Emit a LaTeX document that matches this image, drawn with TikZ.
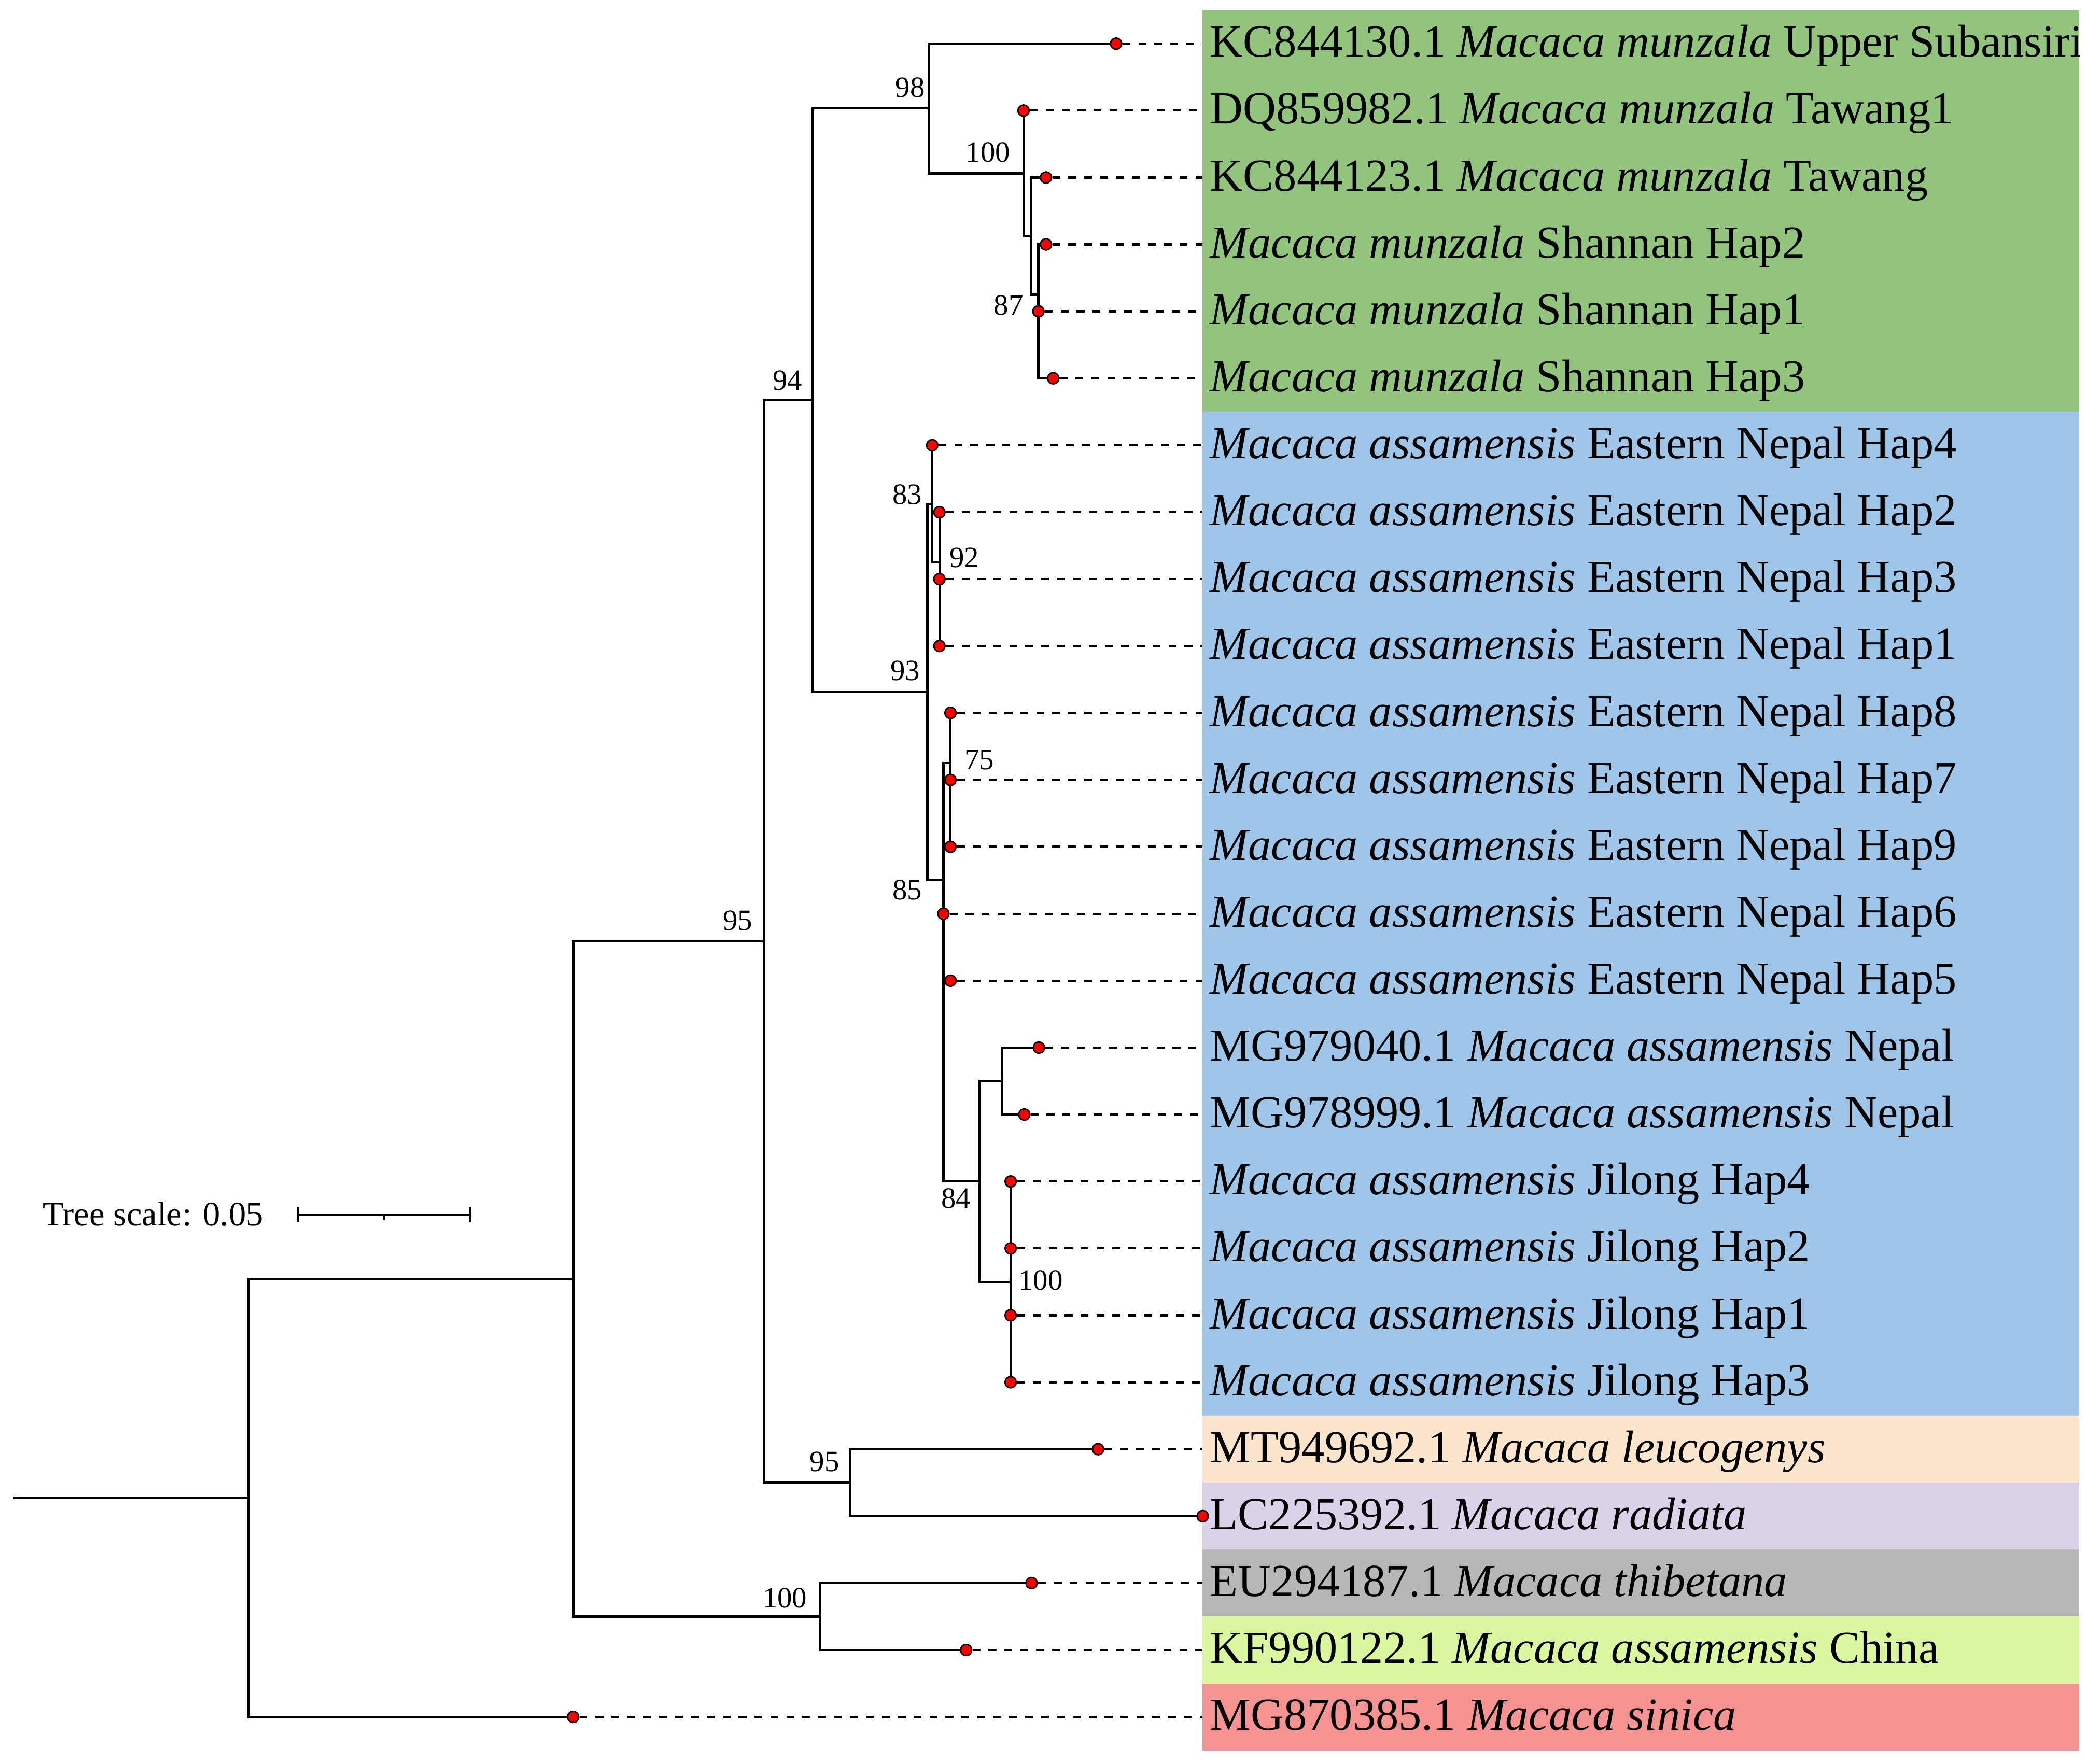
\documentclass[tikz,border=0pt]{standalone}
\usepackage{fontspec}
\setmainfont{Liberation Serif}
\usetikzlibrary{calc}
\definecolor{cgreen}{RGB}{147,196,125}
\definecolor{cblue}{RGB}{159,197,232}
\definecolor{cpeach}{RGB}{252,229,205}
\definecolor{clav}{RGB}{217,210,233}
\definecolor{cgray}{RGB}{183,183,183}
\definecolor{clime}{RGB}{218,247,160}
\definecolor{csalmon}{RGB}{244,147,145}
\tikzset{
  branch/.style={line width=0.5pt},
  leafdot/.style={circle, fill=red, draw=black, line width=0.3pt, minimum size=2.4pt, inner sep=0pt},
  guide/.style={line width=0.48pt, dash pattern=on 1.7pt off 1.7pt},
  leaflabel/.style={anchor=base west, inner sep=0pt, font=\fontsize{9.8}{11}\selectfont},
  boot/.style={inner sep=0pt, font=\fontsize{6.3}{7}\selectfont},
  scaletext/.style={anchor=base west, inner sep=0pt, font=\fontsize{7.35}{9}\selectfont},
  bar/.style={line width=0.5pt}
}
\begin{document}
\begin{tikzpicture}[x=0.01cm, y=-0.01cm]
\useasboundingbox (0,0) rectangle (1568,1325.7);

% colour bands
\fill[cgreen]   (903.4,7.65)    rectangle (1562,309.45);
\fill[cblue]    (903.4,309.45)  rectangle (1562,1063.95);
\fill[cpeach]   (903.4,1063.95) rectangle (1562,1114.25);
\fill[clav]     (903.4,1114.25) rectangle (1562,1164.55);
\fill[cgray]    (903.4,1164.55) rectangle (1562,1214.85);
\fill[clime]    (903.4,1214.85) rectangle (1562,1265.15);
\fill[csalmon]  (903.4,1265.15) rectangle (1562,1315.45);

% tip coordinates and band-edge coordinates
\foreach \i/\x in {0/838.6,1/769,2/785.9,3/785.9,4/780.2,5/791.3,6/700.4,7/705.8,8/705.8,9/705.8,
                   10/714.1,11/714.1,12/714.1,13/708.8,14/714.1,15/780.5,16/769.6,17/759.3,18/759.3,
                   19/759.3,20/759.3,21/825,22/903.6,23/775,24/725.9,25/430.6}{
  \coordinate (t\i) at (\x,{32.8+50.3*\i});
  \coordinate (e\i) at (903.4,{32.8+50.3*\i});
}

% internal nodes
\coordinate (rs)   at (10,1125.7);
\coordinate (root) at (186.8,1125.7);
\coordinate (na)   at (430.6,961.2);
\coordinate (nt)   at (616.3,1214.85);
\coordinate (nb)   at (573.9,707.5);
\coordinate (nlr)  at (638.5,1114.25);
\coordinate (nc)   at (610.7,300.8);
\coordinate (nm)   at (697.7,81.5);
\coordinate (nh)   at (769,130.25);
\coordinate (ns1)  at (774.5,177.4);
\coordinate (ns2)  at (780.2,221.4);
\coordinate (ns3)  at (780.2,259.15);
\coordinate (n93)  at (696.8,520);
\coordinate (n83)  at (700.4,378.6);
\coordinate (n92)  at (705.8,422.6);
\coordinate (n92b) at (705.8,460.35);
\coordinate (n85)  at (708.8,661.5);
\coordinate (n75)  at (714.1,573.5);
\coordinate (n75b) at (714.1,611.25);
\coordinate (nx)   at (708.8,749.6);
\coordinate (ny)   at (708.8,812.45);
\coordinate (n84)  at (735.8,887.9);
\coordinate (nmg)  at (752.7,812.45);
\coordinate (nj)   at (759.3,963.35);

% branches
\draw[branch] (rs) -- (root);
\draw[branch] (root) |- (na);  \draw[branch] (root) |- (t25);
\draw[branch] (na) |- (nb);    \draw[branch] (na) |- (nt);
\draw[branch] (nt) |- (t23);   \draw[branch] (nt) |- (t24);
\draw[branch] (nb) |- (nc);    \draw[branch] (nb) |- (nlr);
\draw[branch] (nlr) |- (t21);  \draw[branch] (nlr) |- (t22);
\draw[branch] (nc) |- (nm);    \draw[branch] (nc) |- (n93);
\draw[branch] (nm) |- (t0);    \draw[branch] (nm) |- (nh);
\draw[branch] (nh) |- (t1);    \draw[branch] (nh) |- (ns1);
\draw[branch] (ns1) |- (t2);   \draw[branch] (ns1) |- (ns2);
\draw[branch] (ns2) |- (t3);   \draw[branch] (ns2) |- (ns3);
\draw[branch] (ns3) |- (t4);   \draw[branch] (ns3) |- (t5);
\draw[branch] (n93) |- (n83);  \draw[branch] (n93) |- (n85);
\draw[branch] (n83) |- (t6);   \draw[branch] (n83) |- (n92);
\draw[branch] (n92) |- (t7);   \draw[branch] (n92) |- (n92b);
\draw[branch] (n92b) |- (t8);  \draw[branch] (n92b) |- (t9);
\draw[branch] (n85) |- (n75);  \draw[branch] (n85) |- (nx);
\draw[branch] (n75) |- (t10);  \draw[branch] (n75) |- (n75b);
\draw[branch] (n75b) |- (t11); \draw[branch] (n75b) |- (t12);
\draw[branch] (nx) |- (t13);   \draw[branch] (nx) |- (ny);
\draw[branch] (ny) |- (t14);   \draw[branch] (ny) |- (n84);
\draw[branch] (n84) |- (nmg);  \draw[branch] (n84) |- (nj);
\draw[branch] (nmg) |- (t15);  \draw[branch] (nmg) |- (t16);
\draw[branch] (nj) |- (t17);   \draw[branch] (nj) |- (t18);
\draw[branch] (nj) |- (t19);   \draw[branch] (nj) |- (t20);

% tip dots and dashed guides
\foreach \i in {0,...,25}{
  \node[leafdot] (d\i) at (t\i) {};
}
\foreach \i in {0,...,21,23,24,25}{
  \draw[guide] (d\i) -- (e\i);
}

% leaf labels
\begin{scope}
\clip (0,0) rectangle (1562.3,1325.7);
\foreach \i/\txt in {
  0/{KC844130.1 \textit{Macaca munzala} Upper Subansiri},
  1/{DQ859982.1 \textit{Macaca munzala} Tawang1},
  2/{KC844123.1 \textit{Macaca munzala} Tawang},
  3/{\textit{Macaca munzala} Shannan Hap2},
  4/{\textit{Macaca munzala} Shannan Hap1},
  5/{\textit{Macaca munzala} Shannan Hap3},
  6/{\textit{Macaca assamensis} Eastern Nepal Hap4},
  7/{\textit{Macaca assamensis} Eastern Nepal Hap2},
  8/{\textit{Macaca assamensis} Eastern Nepal Hap3},
  9/{\textit{Macaca assamensis} Eastern Nepal Hap1},
  10/{\textit{Macaca assamensis} Eastern Nepal Hap8},
  11/{\textit{Macaca assamensis} Eastern Nepal Hap7},
  12/{\textit{Macaca assamensis} Eastern Nepal Hap9},
  13/{\textit{Macaca assamensis} Eastern Nepal Hap6},
  14/{\textit{Macaca assamensis} Eastern Nepal Hap5},
  15/{MG979040.1 \textit{Macaca assamensis} Nepal},
  16/{MG978999.1 \textit{Macaca assamensis} Nepal},
  17/{\textit{Macaca assamensis} Jilong Hap4},
  18/{\textit{Macaca assamensis} Jilong Hap2},
  19/{\textit{Macaca assamensis} Jilong Hap1},
  20/{\textit{Macaca assamensis} Jilong Hap3},
  21/{MT949692.1 \textit{Macaca leucogenys}},
  22/{LC225392.1 \textit{Macaca radiata}},
  23/{EU294187.1 \textit{Macaca thibetana}},
  24/{KF990122.1 \textit{Macaca assamensis} China},
  25/{MG870385.1 \textit{Macaca sinica}}}{
  \node[leaflabel] (l\i) at (908.5,{42.8+50.3*\i}) {\txt};
}
\end{scope}

% bootstrap values
\node[boot, anchor=base east] (b98)  at (695.5,73.1)  {98};
\node[boot, anchor=base east] (b100a) at (759.6,121.6) {100};
\node[boot, anchor=base east] (b87)  at (769.5,236.5) {87};
\node[boot, anchor=base east] (b94)  at (603.5,293.2) {94};
\node[boot, anchor=base east] (b83)  at (693.3,378.7) {83};
\node[boot, anchor=base west] (b92)  at (712.7,426.4) {92};
\node[boot, anchor=base east] (b93)  at (691.8,511.4) {93};
\node[boot, anchor=base west] (b75)  at (723.9,578.5) {75};
\node[boot, anchor=base east] (b85)  at (693.3,676)   {85};
\node[boot, anchor=base east] (b95a) at (566,699)     {95};
\node[boot, anchor=base west] (b84)  at (706.4,907.9) {84};
\node[boot, anchor=base west] (b100b) at (764.6,969.4) {100};
\node[boot, anchor=base east] (b95b) at (631.3,1105.7) {95};
\node[boot, anchor=base east] (b100c) at (607,1208.3) {100};

% tree scale
\node[scaletext] (ts) at (31.5,921.3) {Tree scale: 0.05};
\coordinate (sb1) at (223.6,913.1);
\coordinate (sb2) at (353.3,913.1);
\coordinate (sbm) at (288.4,913.1);
\draw[bar] (sb1) -- (sb2);
\draw[bar] ($(sb1)+(0,-6)$) -- ($(sb1)+(0,5.6)$);
\draw[bar] ($(sb2)+(0,-6)$) -- ($(sb2)+(0,5.6)$);
\draw[line width=0.35pt] (sbm) -- ($(sbm)+(0,4)$);
\end{tikzpicture}
\end{document}
